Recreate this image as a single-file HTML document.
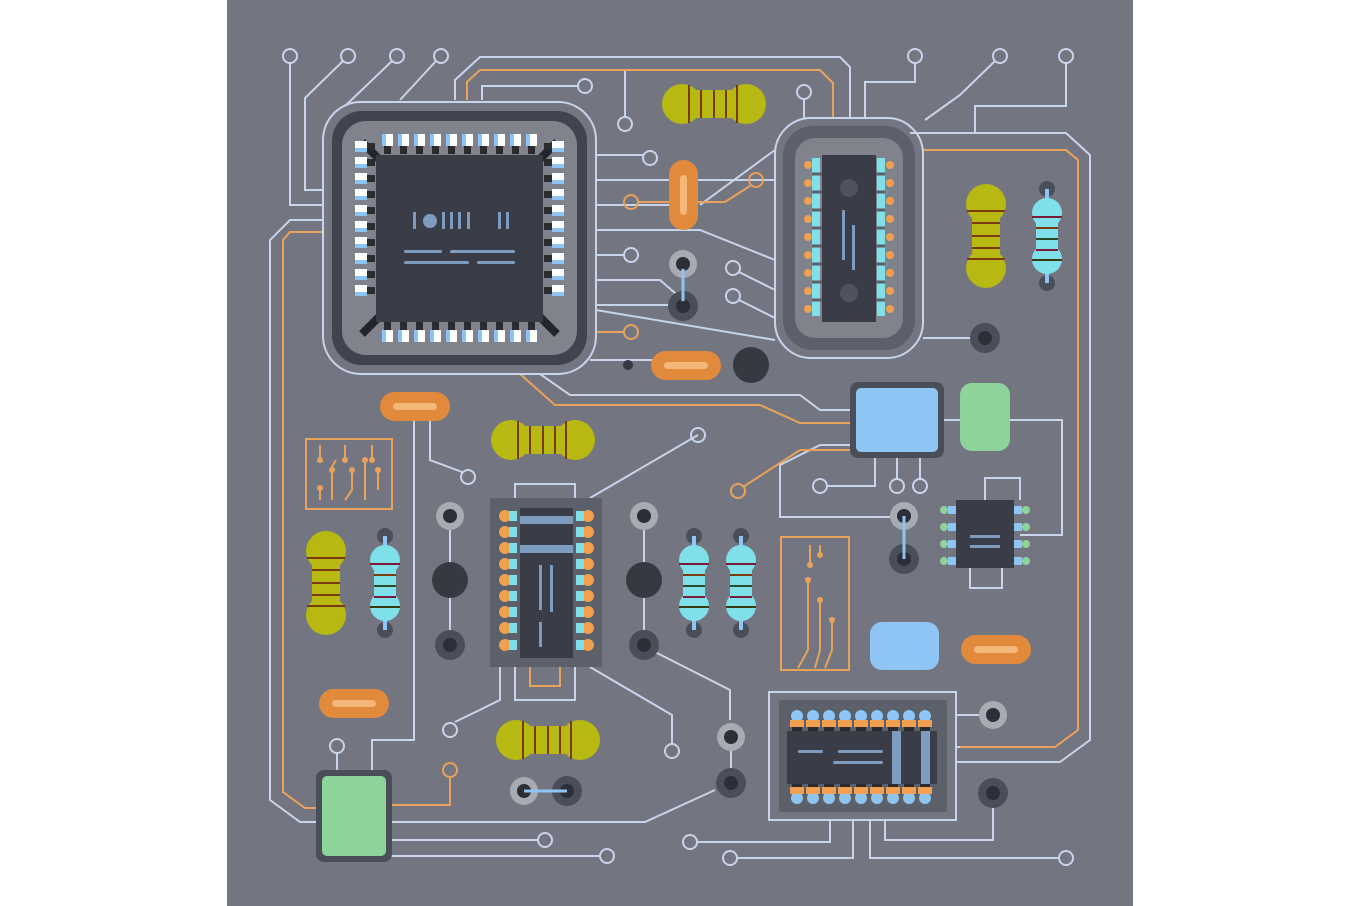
<!DOCTYPE html>
<html><head><meta charset="utf-8"><style>html,body{margin:0;padding:0;background:#fff}svg{display:block}</style></head><body>
<svg width="1360" height="906" viewBox="0 0 1360 906" xmlns="http://www.w3.org/2000/svg">
<defs>
<g id="resH">
<path d="M-52,0 L-40,-8 L-40,8 Z M52,0 L40,-8 L40,8 Z" fill="#4a4e58"/>
<circle cx="-32" cy="0" r="20" fill="#b8b813"/><circle cx="32" cy="0" r="20" fill="#b8b813"/>
<rect x="-22" y="-14" width="44" height="28" fill="#b8b813"/>
<g stroke="#7a3a10" stroke-width="2"><line x1="-25" y1="-19" x2="-25" y2="19"/><line x1="-13" y1="-14" x2="-13" y2="14"/><line x1="0" y1="-14" x2="0" y2="14"/><line x1="12" y1="-14" x2="12" y2="14"/><line x1="23" y1="-19" x2="23" y2="19"/></g>
</g>
<g id="resB">
<circle cx="0" cy="-47" r="8" fill="#4a4e58"/><circle cx="0" cy="47" r="8" fill="#4a4e58"/>
<line x1="0" y1="-47" x2="0" y2="47" stroke="#8ec5f5" stroke-width="4"/>
<circle cx="0" cy="-23" r="15" fill="#7fe0ea"/><circle cx="0" cy="23" r="15" fill="#7fe0ea"/>
<rect x="-11" y="-23" width="22" height="46" fill="#7fe0ea"/>
<g stroke-width="2"><line x1="-15" y1="-19" x2="15" y2="-19" stroke="#7a1a3a"/><line x1="-11" y1="-8" x2="11" y2="-8" stroke="#7a3a10"/><line x1="-11" y1="3" x2="11" y2="3" stroke="#2a4a2a"/><line x1="-11" y1="14" x2="11" y2="14" stroke="#7a1a3a"/><line x1="-15" y1="24" x2="15" y2="24" stroke="#3a3a10"/></g>
</g>
<g id="pinT"><rect x="0" y="0" width="11" height="12" fill="#fff"/><rect x="0" y="0" width="4" height="12" fill="#8ec5f5"/><rect x="2" y="12" width="7" height="8" fill="#2c2c30"/></g>
<g id="dipL"><circle cx="0" cy="0" r="6" fill="#f0a050"/><rect x="4" y="-5" width="8" height="10" fill="#7fe0ea"/></g>
<g id="bcPin"><circle cx="0" cy="0" r="6" fill="#8ec5f5"/><rect x="-7" y="4" width="14" height="7" fill="#f0a050"/><rect x="-5" y="11" width="10" height="6" fill="#2c2c30"/></g>
<g id="ringD"><circle r="14" fill="#a9abb2"/><circle r="7" fill="#2c2f38"/></g>
<g id="ringK"><circle r="15" fill="#4a4e58"/><circle r="7" fill="#2c2f38"/></g>
</defs>
<rect x="227" y="0" width="906" height="906" fill="#737680"/>

<!-- light traces -->
<g fill="none" stroke="#c8d4ec" stroke-width="2">
<circle cx="290" cy="56" r="7"/><circle cx="348" cy="56" r="7"/><circle cx="397" cy="56" r="7"/><circle cx="441" cy="56" r="7"/>
<polyline points="290,63 290,205 323,205"/>
<polyline points="343,61 305,98 305,190 323,190"/>
<polyline points="392,61 345,106"/>
<polyline points="436,61 400,100"/>
<polyline points="323,220 290,220 270,240 270,800 300,822 318,822"/>
<polyline points="455,100 455,80 480,57 840,57 850,67 850,118"/>
<polyline points="482,100 482,86 578,86"/><circle cx="585" cy="86" r="7"/>
<line x1="625" y1="70" x2="625" y2="117"/><circle cx="625" cy="124" r="7"/>
<circle cx="804" cy="92" r="7"/><line x1="804" y1="99" x2="804" y2="118"/>
<circle cx="915" cy="56" r="7"/><polyline points="915,63 915,82 865,82 865,118"/>
<circle cx="1000" cy="56" r="7"/><polyline points="995,61 960,95 925,120"/>
<circle cx="1066" cy="56" r="7"/><polyline points="1066,63 1066,106 975,106 975,133"/>
<polyline points="910,133 1066,133 1090,155 1090,740 1060,762 956,762"/>
<polyline points="596,155 643,155"/><circle cx="650" cy="158" r="7"/>
<polyline points="596,180 775,180"/><polyline points="596,205 670,205"/><polyline points="700,205 775,150"/>
<polyline points="596,230 700,230 775,260"/>
<polyline points="596,255 624,255"/><circle cx="631" cy="255" r="7"/>
<polyline points="596,280 660,280 683,300"/>
<polyline points="596,305 640,305 683,305"/>
<circle cx="733" cy="268" r="7"/><line x1="739" y1="272" x2="775" y2="290"/>
<circle cx="733" cy="296" r="7"/><line x1="739" y1="300" x2="775" y2="318"/>
<polyline points="596,310 775,340"/>
<polyline points="923,338 985,338"/>
<polyline points="540,374 570,395 800,395 820,410 852,410"/>
<polyline points="590,360 660,360"/>
<polyline points="942,420 1062,420 1062,535 1020,535"/>
<polyline points="852,445 820,445 780,465 780,517 890,517"/>
<circle cx="820" cy="486" r="7"/><polyline points="827,486 875,486 875,456"/>
<circle cx="897" cy="486" r="7"/><line x1="897" y1="456" x2="897" y2="479"/>
<circle cx="920" cy="486" r="7"/><line x1="920" y1="456" x2="920" y2="479"/>
<polyline points="985,500 985,478 1020,478 1020,500"/><polyline points="970,568 970,588 1002,588 1002,568"/>
<polyline points="430,420 430,460 462,472"/><circle cx="468" cy="477" r="7"/>
<polyline points="414,420 414,740 372,740 372,772"/>
<circle cx="337" cy="746" r="7"/><line x1="337" y1="753" x2="337" y2="772"/>
<line x1="450" y1="530" x2="450" y2="640"/><line x1="644" y1="530" x2="644" y2="640"/>
<polyline points="590,498 698,435"/><circle cx="698" cy="435" r="7"/>
<polyline points="515,498 515,484 575,484 575,498"/>
<polyline points="500,667 500,700 455,722"/><circle cx="450" cy="730" r="7"/>
<polyline points="515,667 515,700 575,700 575,667"/>
<polyline points="590,667 672,715 672,744"/><circle cx="672" cy="751" r="7"/>
<polyline points="655,652 730,690 730,720"/>
<line x1="731" y1="738" x2="731" y2="783"/>
<polyline points="390,822 645,822 715,790"/>
<polyline points="390,840 538,840"/><circle cx="545" cy="840" r="7"/>
<polyline points="360,860 360,856 600,856"/><circle cx="607" cy="856" r="7"/>
<rect x="769" y="692" width="187" height="128"/>
<polyline points="956,715 980,715"/><polyline points="956,747 1055,747"/>
<polyline points="830,820 830,842 697,842"/><circle cx="690" cy="842" r="7"/>
<polyline points="853,820 853,858 737,858"/><circle cx="730" cy="858" r="7"/>
<polyline points="870,820 870,858 1060,858"/><circle cx="1066" cy="858" r="7"/>
<polyline points="885,820 885,840 993,840 993,800"/>
<polyline points="904,517 904,545"/>
</g>
<!-- orange traces -->
<g fill="none" stroke="#e8a25b" stroke-width="2">
<polyline points="467,100 467,82 480,70 820,70 833,83 833,118"/>
<polyline points="323,232 290,232 283,240 283,792 305,808 318,808"/>
<polyline points="923,150 1066,150 1078,160 1078,730 1055,747 960,747"/>
<polyline points="638,202 675,202"/><circle cx="631" cy="202" r="7"/>
<polyline points="697,202 725,202 750,186"/><circle cx="756" cy="180" r="7"/>
<polyline points="596,332 624,332"/><circle cx="631" cy="332" r="7"/>
<polyline points="520,374 555,405 760,405 800,423 852,423"/>
<polyline points="743,487 800,450 852,450"/><circle cx="738" cy="491" r="7"/>
<polyline points="390,805 450,805 450,778"/><circle cx="450" cy="770" r="7"/>
<polyline points="530,667 530,686 560,686 560,667"/>
<rect x="306" y="439" width="86" height="70"/>
<path d="M320,500 V488 M332,500 V470 M345,500 L352,490 V470 M365,500 V460 M378,490 V470 M320,460 V445 M345,460 V445 M372,460 V445 M330,470 L336,460"/>
<rect x="781" y="537" width="68" height="133"/>
<path d="M810,545 V565 M820,545 V555 M798,668 L808,650 V580 M815,668 L820,650 V600 M825,668 L832,650 V620"/>
</g>
<g fill="#e8a25b"><circle cx="320" cy="488" r="3"/><circle cx="332" cy="470" r="3"/><circle cx="352" cy="470" r="3"/><circle cx="365" cy="460" r="3"/><circle cx="378" cy="470" r="3"/><circle cx="320" cy="460" r="3"/><circle cx="345" cy="460" r="3"/><circle cx="372" cy="460" r="3"/><circle cx="808" cy="580" r="3"/><circle cx="820" cy="600" r="3"/><circle cx="832" cy="620" r="3"/><circle cx="810" cy="565" r="3"/><circle cx="820" cy="555" r="3"/></g>

<!-- big chip -->
<rect x="323" y="102" width="273" height="272" rx="38" fill="none" stroke="#c8d4ec" stroke-width="2"/>
<rect x="332" y="111" width="255" height="254" rx="30" fill="#40444f"/>
<rect x="342" y="121" width="235" height="234" rx="24" fill="#80838c"/>
<g stroke="#22252c" stroke-width="8"><line x1="362" y1="142" x2="382" y2="162"/><line x1="557" y1="142" x2="537" y2="162"/><line x1="362" y1="334" x2="382" y2="314"/><line x1="557" y1="334" x2="537" y2="314"/></g>
<g>
<use href="#pinT" x="382" y="134"/><use href="#pinT" x="398" y="134"/><use href="#pinT" x="414" y="134"/><use href="#pinT" x="430" y="134"/><use href="#pinT" x="446" y="134"/><use href="#pinT" x="462" y="134"/><use href="#pinT" x="478" y="134"/><use href="#pinT" x="494" y="134"/><use href="#pinT" x="510" y="134"/><use href="#pinT" x="526" y="134"/>
</g>
<g transform="translate(0,476) scale(1,-1)"><use href="#pinT" x="382" y="134"/><use href="#pinT" x="398" y="134"/><use href="#pinT" x="414" y="134"/><use href="#pinT" x="430" y="134"/><use href="#pinT" x="446" y="134"/><use href="#pinT" x="462" y="134"/><use href="#pinT" x="478" y="134"/><use href="#pinT" x="494" y="134"/><use href="#pinT" x="510" y="134"/><use href="#pinT" x="526" y="134"/></g>
<g transform="translate(0,476) rotate(-90) translate(0,220) "><use href="#pinT" x="180" y="135"/><use href="#pinT" x="196" y="135"/><use href="#pinT" x="212" y="135"/><use href="#pinT" x="228" y="135"/><use href="#pinT" x="244" y="135"/><use href="#pinT" x="260" y="135"/><use href="#pinT" x="276" y="135"/><use href="#pinT" x="292" y="135"/><use href="#pinT" x="308" y="135"/><use href="#pinT" x="324" y="135"/></g>
<g transform="translate(919,0) scale(-1,1) translate(0,476) rotate(-90) translate(0,220)"><use href="#pinT" x="180" y="135"/><use href="#pinT" x="196" y="135"/><use href="#pinT" x="212" y="135"/><use href="#pinT" x="228" y="135"/><use href="#pinT" x="244" y="135"/><use href="#pinT" x="260" y="135"/><use href="#pinT" x="276" y="135"/><use href="#pinT" x="292" y="135"/><use href="#pinT" x="308" y="135"/><use href="#pinT" x="324" y="135"/></g>
<rect x="376" y="155" width="167" height="167" fill="#3a3d48"/>
<g fill="#7d9cc0"><rect x="413" y="212" width="3" height="17"/><circle cx="430" cy="221" r="7"/><rect x="442" y="212" width="3" height="17"/><rect x="450" y="212" width="3" height="17"/><rect x="458" y="212" width="3" height="17"/><rect x="467" y="212" width="3" height="17"/><rect x="498" y="212" width="3" height="17"/><rect x="506" y="212" width="3" height="17"/>
<rect x="404" y="250" width="38" height="3" rx="1.5"/><rect x="450" y="250" width="65" height="3" rx="1.5"/><rect x="404" y="261" width="65" height="3" rx="1.5"/><rect x="477" y="261" width="38" height="3" rx="1.5"/></g>

<!-- right chip -->
<rect x="775" y="118" width="148" height="240" rx="36" fill="none" stroke="#c8d4ec" stroke-width="2"/>
<rect x="783" y="126" width="132" height="224" rx="30" fill="#5c606a"/>
<rect x="795" y="138" width="108" height="200" rx="20" fill="#80838c"/>
<g fill="#f0a050">
<circle cx="808" cy="165" r="4"/><circle cx="808" cy="183" r="4"/><circle cx="808" cy="201" r="4"/><circle cx="808" cy="219" r="4"/><circle cx="808" cy="237" r="4"/><circle cx="808" cy="255" r="4"/><circle cx="808" cy="273" r="4"/><circle cx="808" cy="291" r="4"/><circle cx="808" cy="309" r="4"/>
<circle cx="890" cy="165" r="4"/><circle cx="890" cy="183" r="4"/><circle cx="890" cy="201" r="4"/><circle cx="890" cy="219" r="4"/><circle cx="890" cy="237" r="4"/><circle cx="890" cy="255" r="4"/><circle cx="890" cy="273" r="4"/><circle cx="890" cy="291" r="4"/><circle cx="890" cy="309" r="4"/></g>
<g fill="#7fe0ea"><rect x="812" y="158" width="8" height="158"/><rect x="877" y="158" width="8" height="158"/></g>
<g stroke="#5c606a" stroke-width="3"><line x1="812" y1="174" x2="885" y2="174"/><line x1="812" y1="192" x2="885" y2="192"/><line x1="812" y1="210" x2="885" y2="210"/><line x1="812" y1="228" x2="885" y2="228"/><line x1="812" y1="246" x2="885" y2="246"/><line x1="812" y1="264" x2="885" y2="264"/><line x1="812" y1="282" x2="885" y2="282"/><line x1="812" y1="300" x2="885" y2="300"/></g>
<rect x="822" y="155" width="54" height="167" fill="#3a3d48"/>
<circle cx="849" cy="188" r="9" fill="#4f535e"/><circle cx="849" cy="293" r="9" fill="#4f535e"/>
<g fill="#7d9cc0"><rect x="842" y="210" width="3" height="50"/><rect x="852" y="225" width="3" height="45"/></g>

<!-- resistors -->
<use href="#resH" x="714" y="104"/>
<use href="#resH" transform="translate(986,236) rotate(90)"/>
<use href="#resH" x="543" y="440"/>
<use href="#resH" transform="translate(326,583) rotate(90)"/>
<use href="#resH" x="548" y="740"/>
<use href="#resB" x="1047" y="236"/>
<use href="#resB" x="385" y="583"/>
<use href="#resB" x="694" y="583"/>
<use href="#resB" x="741" y="583"/>

<!-- capsules -->
<g fill="#e28a3c"><rect x="669" y="160" width="29" height="70" rx="14.5"/><rect x="651" y="351" width="70" height="29" rx="14.5"/><rect x="380" y="392" width="70" height="29" rx="14.5"/><rect x="319" y="689" width="70" height="29" rx="14.5"/><rect x="961" y="635" width="70" height="29" rx="14.5"/></g>
<g fill="#f4b77a"><rect x="680" y="175" width="7" height="40" rx="3.5"/><rect x="664" y="362" width="44" height="7" rx="3.5"/><rect x="393" y="403" width="44" height="7" rx="3.5"/><rect x="332" y="700" width="44" height="7" rx="3.5"/><rect x="974" y="646" width="44" height="7" rx="3.5"/></g>

<!-- circles -->
<circle cx="751" cy="365" r="18" fill="#363942"/>
<circle cx="628" cy="365" r="5" fill="#363942"/>
<use href="#ringD" x="683" y="264"/><use href="#ringK" x="683" y="306"/>
<line x1="683" y1="264" x2="683" y2="306" stroke="#8ec5f5" stroke-width="3"/>
<circle cx="683" cy="264" r="5" fill="#2c2f38"/><circle cx="683" cy="306" r="5" fill="#2c2f38"/>
<use href="#ringK" x="985" y="338"/>
<use href="#ringD" x="450" y="516"/><circle cx="450" cy="580" r="18" fill="#363942"/><use href="#ringK" x="450" y="645"/>
<use href="#ringD" x="644" y="516"/><circle cx="644" cy="580" r="18" fill="#363942"/><use href="#ringK" x="644" y="645"/>
<use href="#ringD" x="904" y="516"/><use href="#ringK" x="904" y="559"/>
<line x1="904" y1="516" x2="904" y2="559" stroke="#8ec5f5" stroke-width="3"/>
<use href="#ringD" x="731" y="737"/><use href="#ringK" x="731" y="783"/>
<use href="#ringD" x="993" y="715"/><use href="#ringK" x="993" y="793"/>
<use href="#ringD" x="524" y="791"/><use href="#ringK" x="567" y="791"/>
<line x1="524" y1="791" x2="567" y2="791" stroke="#8ec5f5" stroke-width="3"/>

<!-- colored blocks -->
<rect x="850" y="382" width="94" height="76" rx="8" fill="#4a4e58"/>
<rect x="856" y="388" width="82" height="64" rx="5" fill="#8ec5f5"/>
<rect x="960" y="383" width="50" height="68" rx="12" fill="#8ed39a"/>
<rect x="870" y="622" width="69" height="48" rx="12" fill="#8ec5f5"/>
<rect x="316" y="770" width="76" height="92" rx="8" fill="#4a4e58"/>
<rect x="322" y="776" width="64" height="80" rx="5" fill="#8ed39a"/>

<!-- middle DIP -->
<rect x="490" y="498" width="112" height="169" fill="#5c606a"/>
<g><use href="#dipL" x="505" y="516"/><use href="#dipL" x="505" y="532"/><use href="#dipL" x="505" y="548"/><use href="#dipL" x="505" y="564"/><use href="#dipL" x="505" y="580"/><use href="#dipL" x="505" y="596"/><use href="#dipL" x="505" y="612"/><use href="#dipL" x="505" y="628"/><use href="#dipL" x="505" y="645"/></g>
<g transform="translate(1093,0) scale(-1,1)"><use href="#dipL" x="505" y="516"/><use href="#dipL" x="505" y="532"/><use href="#dipL" x="505" y="548"/><use href="#dipL" x="505" y="564"/><use href="#dipL" x="505" y="580"/><use href="#dipL" x="505" y="596"/><use href="#dipL" x="505" y="612"/><use href="#dipL" x="505" y="628"/><use href="#dipL" x="505" y="645"/></g>
<rect x="520" y="508" width="53" height="150" fill="#3a3d48"/>
<g fill="#7d9cc0"><rect x="520" y="516" width="53" height="8"/><rect x="520" y="545" width="53" height="8"/><rect x="539" y="565" width="3" height="45"/><rect x="550" y="565" width="3" height="47"/><rect x="539" y="622" width="3" height="25"/></g>

<!-- small chip right -->
<rect x="944" y="500" width="82" height="68" fill="#5c606a" opacity="0"/>
<g fill="#8ed39a"><circle cx="944" cy="510" r="4"/><circle cx="944" cy="527" r="4"/><circle cx="944" cy="544" r="4"/><circle cx="944" cy="561" r="4"/><circle cx="1026" cy="510" r="4"/><circle cx="1026" cy="527" r="4"/><circle cx="1026" cy="544" r="4"/><circle cx="1026" cy="561" r="4"/></g>
<g fill="#8ec5f5"><rect x="948" y="506" width="10" height="8"/><rect x="948" y="523" width="10" height="8"/><rect x="948" y="540" width="10" height="8"/><rect x="948" y="557" width="10" height="8"/><rect x="1012" y="506" width="10" height="8"/><rect x="1012" y="523" width="10" height="8"/><rect x="1012" y="540" width="10" height="8"/><rect x="1012" y="557" width="10" height="8"/></g>
<rect x="956" y="500" width="58" height="68" fill="#3a3d48"/>
<g fill="#7d9cc0"><rect x="970" y="535" width="30" height="3"/><rect x="970" y="545" width="30" height="3"/></g>

<!-- bottom right chip -->
<rect x="779" y="700" width="168" height="112" fill="#5c606a"/>
<g><use href="#bcPin" x="797" y="716"/><use href="#bcPin" x="813" y="716"/><use href="#bcPin" x="829" y="716"/><use href="#bcPin" x="845" y="716"/><use href="#bcPin" x="861" y="716"/><use href="#bcPin" x="877" y="716"/><use href="#bcPin" x="893" y="716"/><use href="#bcPin" x="909" y="716"/><use href="#bcPin" x="925" y="716"/></g>
<g transform="translate(0,1514) scale(1,-1)"><use href="#bcPin" x="797" y="716"/><use href="#bcPin" x="813" y="716"/><use href="#bcPin" x="829" y="716"/><use href="#bcPin" x="845" y="716"/><use href="#bcPin" x="861" y="716"/><use href="#bcPin" x="877" y="716"/><use href="#bcPin" x="893" y="716"/><use href="#bcPin" x="909" y="716"/><use href="#bcPin" x="925" y="716"/></g>
<rect x="787" y="731" width="150" height="53" fill="#3a3d48"/>
<g fill="#7d9cc0"><rect x="892" y="731" width="9" height="53"/><rect x="921" y="731" width="9" height="53"/><rect x="798" y="750" width="25" height="3" rx="1.5"/><rect x="838" y="750" width="45" height="3" rx="1.5"/><rect x="833" y="761" width="50" height="3" rx="1.5"/></g>
</svg>
</body></html>
